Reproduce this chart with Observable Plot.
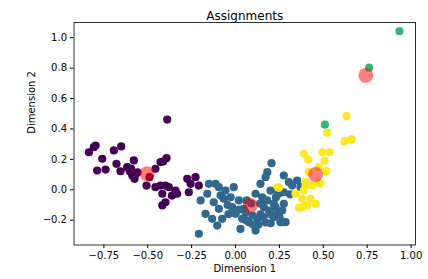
<!DOCTYPE html>
<html>
<head>
<meta charset="utf-8">
<script src="https://cdn.jsdelivr.net/npm/d3@7"></script>
<script src="https://cdn.jsdelivr.net/npm/@observablehq/plot@0.6"></script>
<style>
  html, body { margin: 0; padding: 0; background: #fff; }
  #chart { width: 428px; height: 279px; }
</style>
</head>
<body>
<div id="chart"></div>
<script>
// Cluster 0 (purple)
const cluster0 = [
  [-0.835,0.247],[-0.807,0.280],[-0.797,0.291],[-0.759,0.204],[-0.693,0.259],[-0.651,0.285],
  [-0.788,0.127],[-0.740,0.133],[-0.678,0.171],[-0.655,0.122],[-0.579,0.193],[-0.617,0.149],
  [-0.602,0.120],[-0.588,0.094],[-0.575,0.072],[-0.558,0.114],[-0.490,0.083],[-0.456,0.138],
  [-0.427,0.182],[-0.393,0.208],[-0.412,0.186],[-0.507,0.028],[-0.456,0.017],[-0.427,0.028],
  [-0.399,0.028],[-0.380,0.017],[-0.417,-0.026],[-0.362,-0.038],[-0.333,-0.026],[-0.417,-0.103],
  [-0.399,-0.082],[-0.275,0.072],[-0.256,0.039],[-0.228,0.083],[-0.209,0.028],[-0.266,-0.016],
  [-0.342,-0.005],[-0.389,0.462],[-0.570,0.100],[-0.595,0.140]
];
// Cluster 1 (blue)
const cluster1 = [
  [-0.209,-0.289],[-0.171,-0.158],[-0.133,-0.191],[-0.104,-0.235],[-0.076,-0.191],[-0.152,0.039],
  [-0.114,0.039],[-0.095,0.017],[-0.057,-0.005],[-0.010,0.017],[-0.199,-0.070],[-0.161,-0.026],
  [-0.124,-0.082],[-0.095,-0.125],[-0.067,-0.059],[-0.028,-0.049],[-0.019,-0.114],[0.000,-0.158],
  [0.028,-0.257],[0.038,-0.191],[0.076,-0.213],[0.114,-0.268],[0.124,-0.191],[0.019,-0.070],
  [0.047,-0.125],[0.114,-0.026],[0.152,-0.049],[0.161,-0.114],[0.190,-0.136],[0.218,-0.180],
  [0.256,-0.213],[0.266,-0.136],[0.218,-0.092],[0.142,0.039],[0.171,0.083],[0.181,0.116],
  [0.205,0.175],[0.275,0.094],[0.237,-0.005],[0.275,-0.016],[0.304,0.050],[0.323,0.028],
  [0.351,0.061],[0.370,0.017],[0.275,-0.092],[0.266,-0.213],[0.199,-0.005],[0.247,-0.026],
  [0.228,-0.114],[0.057,-0.149],[0.097,-0.169],[0.142,-0.162],[0.171,-0.215],[0.063,-0.070],
  [-0.085,-0.037],[0.285,-0.213],[0.090,-0.090],
  [0.200,-0.160],[0.240,-0.160],[0.160,-0.180],[0.130,-0.230],[0.200,-0.220],[0.100,-0.230],
  [0.060,-0.200],[0.020,-0.130],[-0.045,-0.100],[-0.040,-0.160],[0.230,-0.050],[0.310,-0.030],
  [0.180,-0.070],[0.140,-0.090],[0.250,-0.180]
];
// Cluster 2 (green)
const cluster2 = [[0.934,1.043],[0.761,0.803],[0.509,0.428]];
// Cluster 3 (yellow)
const cluster3 = [
  [0.632,0.484],[0.522,0.375],[0.621,0.320],[0.661,0.331],[0.389,0.237],[0.414,0.199],
  [0.494,0.247],[0.535,0.247],[0.507,0.191],[0.518,0.122],[0.417,0.116],[0.474,0.044],
  [0.437,0.028],[0.399,0.028],[0.389,-0.005],[0.342,-0.026],[0.247,0.013],[0.380,-0.059],
  [0.427,-0.059],[0.456,-0.092],[0.380,-0.114],[0.408,-0.103],[0.474,0.149],[0.516,0.120],
  [0.399,0.050],[0.484,0.039],[0.241,0.017],[0.361,-0.118]
];
// Centroids
const centroids = [[-0.503,0.105],[0.085,-0.103],[0.742,0.752],[0.456,0.101]];
const clusterColors = ["#440154","#31688e","#35b779","#fde725"];
const xTicks = [-0.75,-0.5,-0.25,0,0.25,0.5,0.75,1.0];
const yTicks = [-0.2,0,0.2,0.4,0.6,0.8,1.0];

const points = [cluster0, cluster1, cluster2, cluster3]
  .flatMap((c, k) => c.map(([x, y]) => ({x, y, k})));
const cents = centroids.map(([x, y]) => ({x, y}));

const chart = Plot.plot({
  width: 428,
  height: 279,
  marginLeft: 73.5,
  marginRight: 13,
  marginTop: 22,
  marginBottom: 34.5,
  style: {fontFamily: "DejaVu Sans", fontSize: "10px", background: "#fff", color: "#000"},
  x: {domain: [-0.92, 1.025]},
  y: {domain: [-0.363, 1.10]},
  color: {type: "ordinal", domain: [0,1,2,3], range: clusterColors},
  marks: [
    Plot.dot(points, {x: "x", y: "y", r: 4.1, fill: d => clusterColors[d.k], stroke: "none"}),
    Plot.dot(cents, {x: "x", y: "y", r: 7.5, fill: "red", fillOpacity: 0.5, stroke: "none"}),
    Plot.frame({stroke: "#000", strokeWidth: 0.8}),
    Plot.axisX(xTicks, {tickSize: 3.5, tickPadding: 3.5, tickFormat: d3.format(".2f"), label: null, fontSize: 10}),
    Plot.axisY(yTicks, {tickSize: 3.5, tickPadding: 3.5, tickFormat: d3.format(".1f"), label: null, fontSize: 10}),
    Plot.text(["Assignments"], {frameAnchor: "top", dy: -11, fontSize: 12}),
    Plot.text(["Dimension 1"], {frameAnchor: "bottom", dy: 26.5, fontSize: 10}),
    Plot.text(["Dimension 2"], {frameAnchor: "left", dx: -42, rotate: -90, fontSize: 10})
  ]
});
document.getElementById("chart").appendChild(chart);
</script>
</body>
</html>
